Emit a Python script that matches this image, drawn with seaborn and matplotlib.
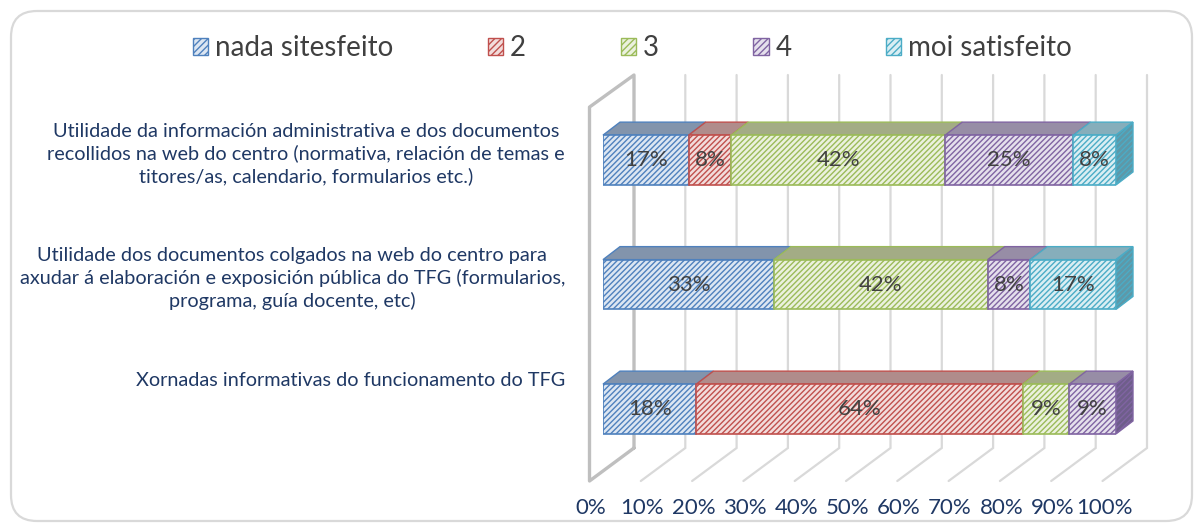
import pandas as pd
import matplotlib
matplotlib.use("Agg")
import matplotlib.pyplot as plt
from matplotlib.patches import Patch, Polygon, FancyBboxPatch
from matplotlib.transforms import ScaledTranslation
import seaborn as sns

questions = [
    "Utilidade da información administrativa e dos documentos\n"
    "recollidos na web do centro (normativa, relación de temas e\n"
    "titores/as, calendario, formularios etc.)",
    "Utilidade dos documentos colgados na web do centro para\n"
    "axudar á elaboración e exposición pública do TFG (formularios,\n"
    "programa, guía docente, etc)",
    "Xornadas informativas do funcionamento do TFG",
]
levels = ["nada sitesfeito", "2", "3", "4", "moi satisfeito"]
# share of answers (%) for each question, one list per level
nada = [16.7, 33.3, 18.2]
dous = [8.3, 0.0, 63.6]
tres = [41.7, 41.7, 9.1]
catro = [25.0, 8.3, 9.1]
moi = [8.3, 16.7, 0.0]
xticks = [0, 10, 20, 30, 40, 50, 60, 70, 80, 90, 100]

edge_cols = ["#4F81BD", "#C0504D", "#9BBB59", "#8064A2", "#4BACC6"]
fill_cols = ["#DCE6F2", "#F2DCDB", "#EBF1DE", "#E5E0EC", "#DAEEF3"]
top_cols = ["#8294AC", "#B08C8B", "#A3AC85", "#978DA6", "#86AEBB"]
side_cols = ["#5F7EA6", "#9E5B59", "#88A15A", "#6E5E8A", "#5E98A8"]
navy = "#1F3864"
HATCH = "//////"

wide = pd.DataFrame(dict(zip(levels, [nada, dous, tres, catro, moi])), index=questions)
start = wide.cumsum(axis=1) - wide
df = wide.reset_index(names="question").melt(id_vars="question", var_name="level", value_name="pct")
df["start"] = start.reset_index(names="question").melt(id_vars="question", value_name="s")["s"]

sns.set_style("white")
plt.rcParams["font.family"] = ["Lato", "DejaVu Sans"]
plt.rcParams["hatch.linewidth"] = 1.0

W, H = 1197, 530
fig = plt.figure(figsize=(W / 100, H / 100), dpi=100)
# outer frame
fig.add_artist(FancyBboxPatch((11, 9), 1181, 510, boxstyle="round,pad=0,rounding_size=26",
                              transform=None, facecolor="white", edgecolor="#D9D9D9", lw=1.6, zorder=-5))

ax = fig.add_axes([603 / W, (H - 481) / H, 513 / W, 406 / H])
ax.patch.set_alpha(0)

for i, lev in enumerate(levels):
    sub = df[df.level == lev]
    sns.barplot(data=sub, x="pct", y="question", order=questions, orient="h", left=sub["start"].values,
                width=0.4, errorbar=None, saturation=1, color=fill_cols[i], facecolor=fill_cols[i],
                edgecolor=edge_cols[i], hatch=HATCH, linewidth=1.2, ax=ax, zorder=3)

ax.set_xlim(0, 100)
ax.set_ylim(2.578, -0.683)

# 3d look: top and side faces of the bars
ddx = 17 / 513 * 100
ddy = 13 / 124.5
n = len(questions)
bars = list(ax.patches)
for r in range(n):
    last = None
    for i in range(len(levels)):
        p = bars[i * n + r]
        w = p.get_width()
        if w <= 0:
            p.set_visible(False)
            continue
        x0, y0, h = p.get_x(), p.get_y(), p.get_height()
        ax.add_patch(Polygon([(x0, y0), (x0 + w, y0), (x0 + w + ddx, y0 - ddy), (x0 + ddx, y0 - ddy)],
                             closed=True, facecolor=top_cols[i], edgecolor=edge_cols[i], lw=1.0,
                             zorder=2, clip_on=False))
        last = (x0 + w, y0, h, i)
    x1, y0, h, i = last
    ax.add_patch(Polygon([(x1, y0), (x1 + ddx, y0 - ddy), (x1 + ddx, y0 + h - ddy), (x1, y0 + h)],
                         closed=True, facecolor=side_cols[i], edgecolor=edge_cols[i], hatch=HATCH, lw=1.0,
                         zorder=2, clip_on=False))

# value labels on the front faces
for r, q in enumerate(questions):
    for lev in levels:
        v = wide.loc[q, lev]
        if v > 0:
            ax.text(start.loc[q, lev] + v / 2, r, f"{v:.0f}%", ha="center", va="center",
                    fontsize=16, color="#404040", zorder=5)

# back wall, floor and grid (axes fraction)
back = 31 / 513
front = -13.5 / 513
floor = 33 / 406
for t in xticks[1:]:
    bx = t / 100 + back
    fx = t / 100 + front
    ax.plot([bx, bx, fx], [1.0, floor, 0], transform=ax.transAxes, color="#D9D9D9", lw=1.6,
            clip_on=False, zorder=0, solid_joinstyle="miter")
ax.plot([back, back, front, front, back], [floor, 1.0, 0.921, 0, floor], transform=ax.transAxes,
        color="#BFBFBF", lw=2.4, clip_on=False, zorder=0)

# x tick labels, placed at the front edge of the floor
ax.set_xticks(xticks)
ax.set_xticklabels([f"{t}%" for t in xticks])
ax.tick_params(axis="x", length=0, pad=12, labelsize=16, labelcolor=navy)
for lab in ax.get_xticklabels():
    lab.set_transform(lab.get_transform() + ScaledTranslation(-12 / 100, 0, fig.dpi_scale_trans))
ax.set_yticks([])
ax.set_xlabel("")
ax.set_ylabel("")
sns.despine(ax=ax, left=True, bottom=True)

# category labels, top aligned like the original
for r, q in enumerate(questions):
    ax.text(-38 / 513, r - 0.3, q, transform=ax.get_yaxis_transform(), ha="right", va="top",
            multialignment="center", fontsize=14.3, color=navy, linespacing=1.32)

handles = [Patch(facecolor=fill_cols[i], edgecolor=edge_cols[i], hatch="/////", lw=1.0) for i in range(len(levels))]
fig.legend(handles, levels, loc="center left", bbox_to_anchor=(193 / W, 1 - 48 / H), ncol=5, frameon=False,
           fontsize=20, labelcolor="#404040", handlelength=0.55, handleheight=0.55, handletextpad=0.25,
           columnspacing=3.4, borderpad=0, borderaxespad=0)

fig.savefig("out.png", dpi=100)
